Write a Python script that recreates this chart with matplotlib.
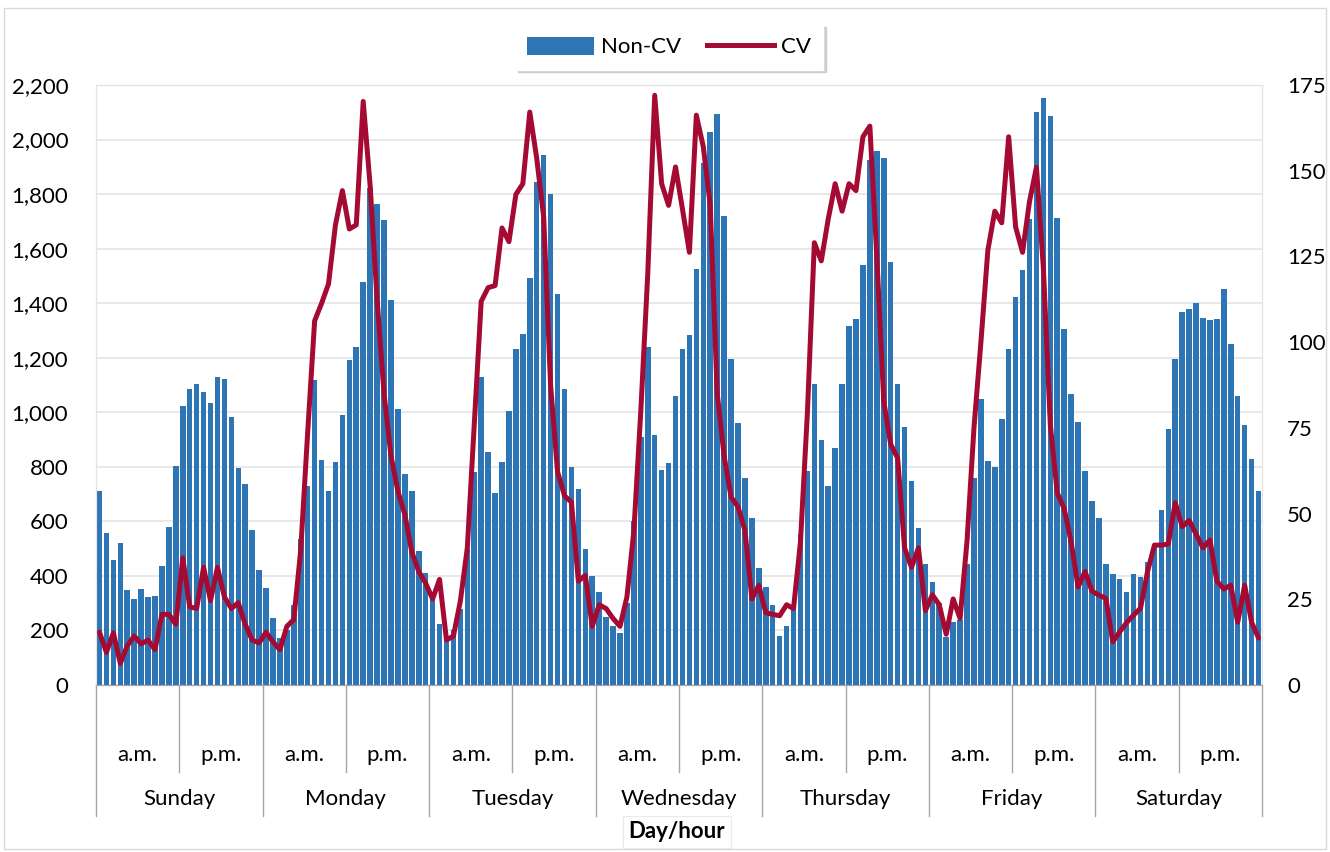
import numpy as np
import matplotlib.pyplot as plt
from matplotlib.patches import Patch, Rectangle
from matplotlib.lines import Line2D
from matplotlib.ticker import FuncFormatter

plt.rcParams['font.family'] = ['Lato', 'DejaVu Sans']

days = ['Sunday', 'Monday', 'Tuesday', 'Wednesday', 'Thursday', 'Friday', 'Saturday']
periods = ['a.m.', 'p.m.']

# hourly Non-CV counts (left axis), 24 per day
non_cv_sun = [710, 556, 459, 519, 347, 315, 353, 321, 328, 437, 581, 804,
              1022, 1084, 1104, 1074, 1035, 1128, 1123, 981, 796, 736, 569, 423]
non_cv_mon = [354, 244, 172, 200, 294, 535, 731, 1118, 825, 713, 816, 989,
              1190, 1240, 1477, 1821, 1764, 1706, 1410, 1011, 774, 710, 490, 412]
non_cv_tue = [330, 222, 180, 200, 277, 499, 781, 1129, 853, 703, 816, 1004,
              1232, 1286, 1494, 1846, 1943, 1800, 1435, 1085, 799, 720, 499, 400]
non_cv_wed = [340, 248, 215, 191, 300, 602, 908, 1240, 918, 787, 813, 1061,
              1232, 1283, 1527, 1914, 2029, 2094, 1721, 1197, 961, 760, 612, 430]
non_cv_thu = [358, 294, 179, 215, 285, 552, 786, 1104, 899, 731, 870, 1103,
              1316, 1341, 1541, 1926, 1957, 1933, 1550, 1104, 945, 747, 574, 442]
non_cv_fri = [377, 300, 175, 232, 240, 445, 760, 1050, 822, 800, 974, 1232,
              1423, 1520, 1710, 2101, 2151, 2087, 1711, 1304, 1068, 965, 786, 673]
non_cv_sat = [614, 442, 407, 389, 342, 407, 397, 450, 510, 642, 939, 1197,
              1367, 1377, 1402, 1345, 1338, 1341, 1451, 1250, 1060, 954, 827, 713]

# hourly CV counts (right axis)
cv_sun = [15.4, 9.5, 15.2, 6.3, 11.4, 14.3, 12, 13.1, 10.3, 20.6, 20.6, 17.7,
          37.1, 22.8, 22.3, 34.3, 24.6, 34.3, 25.7, 22.3, 24, 17.7, 13.1, 12.3]
cv_mon = [15.4, 12.6, 10.3, 17.1, 19.1, 39.4, 73.7, 106.2, 111.3, 117, 134.2, 144.2,
          133, 134.2, 170.2, 145.6, 112.5, 85, 66.8, 56.5, 49.7, 38.8, 33.1, 29.7]
cv_tue = [25.1, 30.8, 13.1, 14.3, 24.5, 40, 76, 111.9, 115.9, 116.5, 133.3, 129.3,
          143.1, 146.2, 167.1, 153.6, 136.5, 87.4, 62.2, 55.2, 53.3, 30.3, 32, 17.1]
cv_wed = [23.4, 22.3, 19.4, 17.1, 25.7, 45, 80, 120, 172, 146.2, 139.9, 151.1,
          138.8, 126.2, 166.2, 157, 139.9, 85.1, 66.8, 54.8, 52, 45.1, 25.1, 29.1]
cv_thu = [21.1, 20.6, 20.2, 23.4, 22.3, 41.7, 79.4, 129, 123.7, 135.9, 146.2, 138.2,
          146.2, 144.2, 159.9, 163, 125, 82.8, 70.2, 66.2, 40, 34.3, 40, 21.7]
cv_fri = [26.3, 23.4, 14.8, 25.1, 19.4, 42, 75, 100, 126.8, 138.2, 134.8, 159.9,
          133.6, 126.2, 141, 151, 121.6, 75.9, 56, 51.4, 41.7, 28.6, 33.1, 27.4]
cv_sat = [26.2, 25.3, 12.6, 15.5, 18.2, 20.4, 22.4, 33, 40.8, 40.8, 41.1, 53.2,
          46.2, 48, 44, 40, 42.3, 30.3, 28, 29.1, 18.3, 29.1, 18.3, 13.7]

non_cv = np.concatenate([non_cv_sun, non_cv_mon, non_cv_tue, non_cv_wed,
                         non_cv_thu, non_cv_fri, non_cv_sat])
cv = np.concatenate([cv_sun, cv_mon, cv_tue, cv_wed, cv_thu, cv_fri, cv_sat])
x = np.arange(len(non_cv))

bar_color = '#2E75B6'
line_color = '#A50A33'
grid_color = '#E4E4E4'
axis_color = '#A6A6A6'

fig = plt.figure(figsize=(13.3, 8.52), dpi=100)
ax = fig.add_axes([96 / 1330, 1 - 685 / 852, (1262 - 96) / 1330, 600 / 852])
ax2 = ax.twinx()

ax.bar(x, non_cv, width=0.8, color=bar_color, zorder=2)
ax2.plot(x, cv, color=line_color, lw=3.6, solid_joinstyle='round',
         solid_capstyle='round', zorder=3)

ax.set_xlim(-0.5, len(x) - 0.5)
ax.set_ylim(0, 2200)
ax2.set_ylim(0, 175)
ax.set_yticks(np.arange(0, 2201, 200))
ax2.set_yticks(np.arange(0, 176, 25))
ax.yaxis.set_major_formatter(FuncFormatter(lambda v, p: f'{int(v):,}'))
ax.yaxis.grid(True, color=grid_color, lw=1.2)
ax.set_axisbelow(True)

for a in (ax, ax2):
    a.tick_params(axis='both', length=0, labelsize=16, colors='black')
    for s in ['left', 'right', 'top']:
        a.spines[s].set_color(grid_color)
    a.spines['bottom'].set_color(axis_color)
ax.tick_params(axis='y', pad=20)
ax2.tick_params(axis='y', pad=18)
ax.set_xticks([])

# multi-level category axis
tr = ax.get_xaxis_transform()
n_days = len(days)
for d in range(n_days + 1):
    xb = d * 24 - 0.5
    ax.plot([xb, xb], [0, -0.218], transform=tr, color=axis_color, lw=1, clip_on=False)
for d in range(n_days):
    xm = d * 24 + 11.5
    ax.plot([xm, xm], [0, -0.145], transform=tr, color=axis_color, lw=1, clip_on=False)
    for k, p in enumerate(periods):
        ax.text(d * 24 + 5.5 + 12 * k, -0.117, p, transform=tr, ha='center', va='center', fontsize=16)
    ax.text(xm, -0.19, days[d], transform=tr, ha='center', va='center', fontsize=16)

fig.text(677 / 1330, 1 - 832 / 852, 'Day/hour', ha='center', va='center', fontsize=16,
         weight='bold', bbox=dict(facecolor='white', edgecolor='#EAEAEA', lw=0.8, pad=4))

handles = [Patch(facecolor=bar_color, edgecolor='none'),
           Line2D([0], [0], color=line_color, lw=3.6)]
fig.legend(handles, ['Non-CV', 'CV'], loc='center', bbox_to_anchor=(669 / 1330, 1 - 47 / 852),
           ncol=2, frameon=True, fancybox=False, edgecolor='white', fontsize=16,
           shadow={'color': '#BFBFBF', 'alpha': 0.7}, handlelength=3, handleheight=0.9,
           columnspacing=1.2, handletextpad=0.3, borderpad=0.55)

fig.patches.append(Rectangle((0.003, 0.003), 0.994, 0.988, transform=fig.transFigure,
                             fill=False, edgecolor='#D9D9D9', lw=1))

fig.savefig('out.png', dpi=100)
